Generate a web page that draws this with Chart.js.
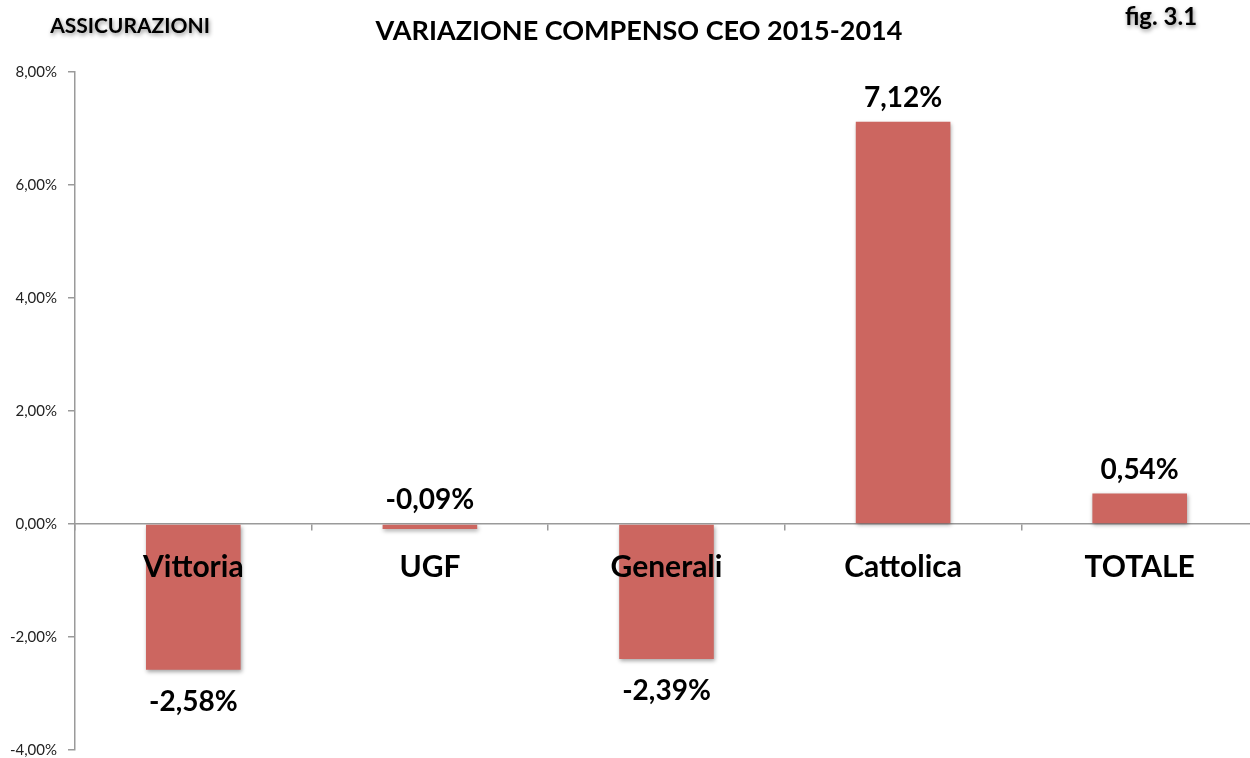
<!DOCTYPE html>
<html>
<head>
<meta charset="utf-8">
<script src="https://cdn.jsdelivr.net/npm/chart.js@4"></script>
<style>
  html, body { margin: 0; padding: 0; background: #fff; overflow: hidden; }
  #wrap { width: 1250px; height: 758px; position: relative; overflow: hidden; }
</style>
</head>
<body>
<div id="wrap"><canvas id="ceoChart" width="1258" height="770"></canvas></div>
<script>
const categories = ["Vittoria", "UGF", "Generali", "Cattolica", "TOTALE"];
const variazione = [-2.58, -0.09, -2.39, 7.12, 0.54];
const yTicks = [-4, -2, 0, 2, 4, 6, 8];

const fontFamily = "Lato, 'Open Sans', sans-serif";
const fmt = (v) => v.toFixed(2).replace(".", ",") + "%";

// titles and value labels, drawn straight on the canvas
const overlay = {
  id: "overlay",
  beforeDatasetDraw(chart) {
    const c = chart.ctx;
    c.save();
    c.shadowColor = "rgba(0,0,0,0.35)";
    c.shadowBlur = 4;
    c.shadowOffsetX = 1;
    c.shadowOffsetY = 2;
  },
  afterDatasetDraw(chart) {
    chart.ctx.restore();
  },
  afterDraw(chart) {
    const c = chart.ctx;
    const meta = chart.getDatasetMeta(0);
    const zero = chart.scales.y.getPixelForValue(0);
    c.save();
    c.fillStyle = "#000";
    c.textAlign = "center";
    c.textBaseline = "middle";
    c.font = "bold 28px " + fontFamily;
    meta.data.forEach((bar, i) => {
      const v = variazione[i];
      let y;
      if (v >= 0) y = bar.y - 24;
      else if (bar.y - zero < 40) y = zero - 24;
      else y = bar.y + 32;
      c.fillText(fmt(v), bar.x, y);
    });

    c.font = "bold 27px " + fontFamily;
    c.fillText("VARIAZIONE COMPENSO CEO 2015-2014", 639, 31);

    c.shadowColor = "rgba(0,0,0,0.45)";
    c.shadowBlur = 4;
    c.shadowOffsetX = 1;
    c.shadowOffsetY = 2;
    c.font = "bold 21px " + fontFamily;
    c.fillText("ASSICURAZIONI", 130, 26);
    c.font = "bold 24px " + fontFamily;
    c.fillText("fig. 3.1", 1161, 17);
    c.restore();
  },
};

const ctx = document.getElementById("ceoChart").getContext("2d");
const ceoChart = new Chart(ctx, {
  type: "bar",
  data: {
    labels: categories,
    datasets: [
      {
        label: "Variazione compenso CEO",
        data: variazione,
        backgroundColor: "#CC6660",
        borderWidth: 0,
        barPercentage: 0.4,
        categoryPercentage: 1,
      },
    ],
  },
  options: {
    responsive: false,
    animation: false,
    layout: { padding: { top: 72, bottom: 8, left: 0, right: 0 } },
    plugins: {
      legend: { display: false },
      tooltip: { enabled: false },
    },
    scales: {
      y: {
        min: -4,
        max: 8,
        afterFit(scale) {
          scale.width = 75;
        },
        afterBuildTicks(scale) {
          scale.ticks = yTicks.map((v) => ({ value: v }));
        },
        border: { color: "#9a9a9a", width: 1.5 },
        grid: {
          drawOnChartArea: false,
          tickLength: 7,
          color: "#9a9a9a",
          lineWidth: 1.5,
        },
        ticks: {
          padding: 11,
          color: "#222",
          font: { family: fontFamily, size: 15 },
          callback: (v) => fmt(v),
        },
      },
      x: {
        position: { y: 0 },
        afterFit(scale) {
          scale.height = 0;
        },
        border: { color: "#9a9a9a", width: 1.5 },
        grid: {
          drawOnChartArea: false,
          tickLength: 6,
          color: "#9a9a9a",
          lineWidth: 1.5,
        },
        ticks: {
          z: 1,
          autoSkip: false,
          maxRotation: 0,
          padding: 19,
          color: "#000",
          font: { family: fontFamily, size: 30, weight: "bold" },
        },
      },
    },
  },
  plugins: [overlay],
});
</script>
</body>
</html>
